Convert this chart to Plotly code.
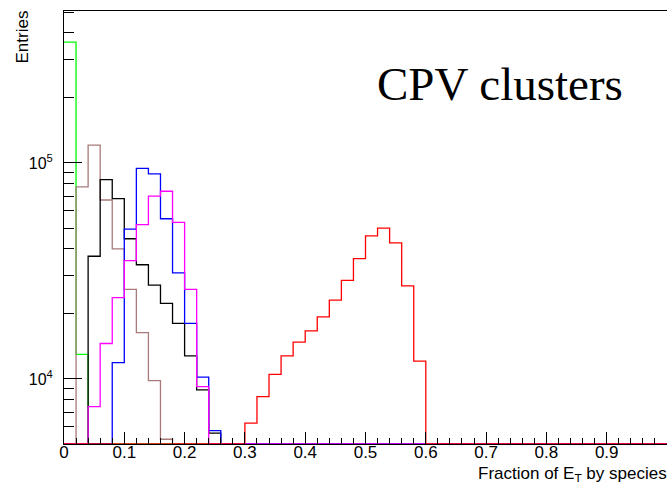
import numpy as np
import plotly.graph_objects as go

# ---- data (bin width 0.02, 50 bins from 0 to 1) ----
bin_edges = [round(i * 0.02, 2) for i in range(51)]

green = [3.63e5, 1.30e4] + [0] * 48
brown = [0, 7.76e4, 1.21e5, 6.74e4, 4.0e4, 2.6e4, 1.64e4, 9820, 5260] + [0] * 41
black = [0, 0, 3.7e4, 8.37e4, 6.84e4, 4.46e4, 3.38e4, 2.72e4, 2.24e4, 1.81e4,
         1.28e4, 8900, 5610] + [0] * 37
blue = [0, 0, 0, 0, 1.19e4, 4.94e4, 9.45e4, 8.9e4, 5.52e4, 3.1e4,
        1.81e4, 1.02e4, 5770] + [0] * 37
magenta = [0, 0, 7450, 1.46e4, 2.38e4, 3.53e4, 5.18e4, 7.03e4, 7.40e4, 5.31e4,
           2.6e4, 9210] + [0] * 38
red = [0] * 15 + [6240, 8280, 1.05e4, 1.28e4, 1.48e4, 1.67e4, 1.94e4, 2.32e4,
                  2.86e4, 3.61e4, 4.6e4, 4.99e4, 4.27e4, 2.7e4, 1.21e4] + [0] * 20

x_tick_vals = [0, 0.1, 0.2, 0.3, 0.4, 0.5, 0.6, 0.7, 0.8, 0.9, 1]
x_tick_text = ["0", "0.1", "0.2", "0.3", "0.4", "0.5", "0.6", "0.7", "0.8", "0.9", "1"]
y_tick_vals = [1e4, 1e5]
y_tick_text = ["10<sup>4</sup>", "10<sup>5</sup>"]

Y_MIN = 5000
Y_MAX = 10 ** 5.7037

series = [
    ("green", green, "#00ff00"),
    ("brown", brown, "#a87a7a"),
    ("black", black, "#000000"),
    ("blue", blue, "#0000ff"),
    ("magenta", magenta, "#ff00ff"),
    ("red", red, "#ff0000"),
]

fig = go.Figure()
for name, vals, col in series:
    v = np.maximum(np.array(vals, dtype=float), Y_MIN)  # ROOT draws empty bins on the frame floor
    y = list(v) + [v[-1]]
    fig.add_trace(go.Scatter(
        x=bin_edges, y=y, mode="lines", line=dict(shape="hv", color=col, width=1.3),
        name=name, showlegend=False, hoverinfo="skip"))

minor_y = [m * 10 ** e for e in (3, 4, 5) for m in range(2, 10) if Y_MIN < m * 10 ** e < Y_MAX]
minor_x = [round(i * 0.02, 2) for i in range(51) if i % 5 != 0]

font = "Liberation Sans, Arial, Helvetica, sans-serif"
fig.update_layout(
    width=669, height=482,
    margin=dict(l=64, r=2, t=11, b=38),
    paper_bgcolor="white", plot_bgcolor="white",
    font=dict(family=font, color="black", size=15),
    xaxis=dict(
        range=[0, 1], showgrid=False, zeroline=False,
        showline=True, linecolor="black", linewidth=1, mirror=True,
        tickmode="array", tickvals=x_tick_vals, ticktext=x_tick_text,
        ticks="inside", ticklen=12, tickcolor="black", tickwidth=1,
        tickfont=dict(size=17), ticklabelstandoff=-7,
        minor=dict(tickmode="array", tickvals=minor_x, ticks="inside", ticklen=6,
                   tickcolor="black", tickwidth=1, showgrid=False),
    ),
    yaxis=dict(
        type="log", range=[np.log10(Y_MIN), np.log10(Y_MAX)],
        showgrid=False, zeroline=False,
        showline=True, linecolor="black", linewidth=1, mirror=False,
        tickmode="array", tickvals=y_tick_vals, ticktext=y_tick_text,
        ticks="inside", ticklen=18, tickcolor="black", tickwidth=1,
        tickfont=dict(size=16), ticklabelstandoff=7,
        minor=dict(tickmode="array", tickvals=minor_y, ticks="inside", ticklen=10,
                   tickcolor="black", tickwidth=1, showgrid=False),
    ),
    annotations=[
        dict(text="CPV clusters", xref="paper", yref="paper", x=0.515, y=0.832,
             xanchor="left", yanchor="middle", showarrow=False,
             font=dict(family="Liberation Serif, Times New Roman, serif", size=47, color="black")),
        dict(text="Fraction of E<sub>T</sub> by species", xref="paper", yref="paper",
             x=1, y=0, xanchor="right", yanchor="top", yshift=-18, xshift=2, showarrow=False,
             font=dict(family=font, size=17, color="black")),
        dict(text="Entries", xref="paper", yref="paper", x=0, y=1, xanchor="center",
             yanchor="top", xshift=-42, yshift=2, textangle=-90, showarrow=False,
             font=dict(family=font, size=17, color="black")),
    ],
)

fig.write_html("out.html")
